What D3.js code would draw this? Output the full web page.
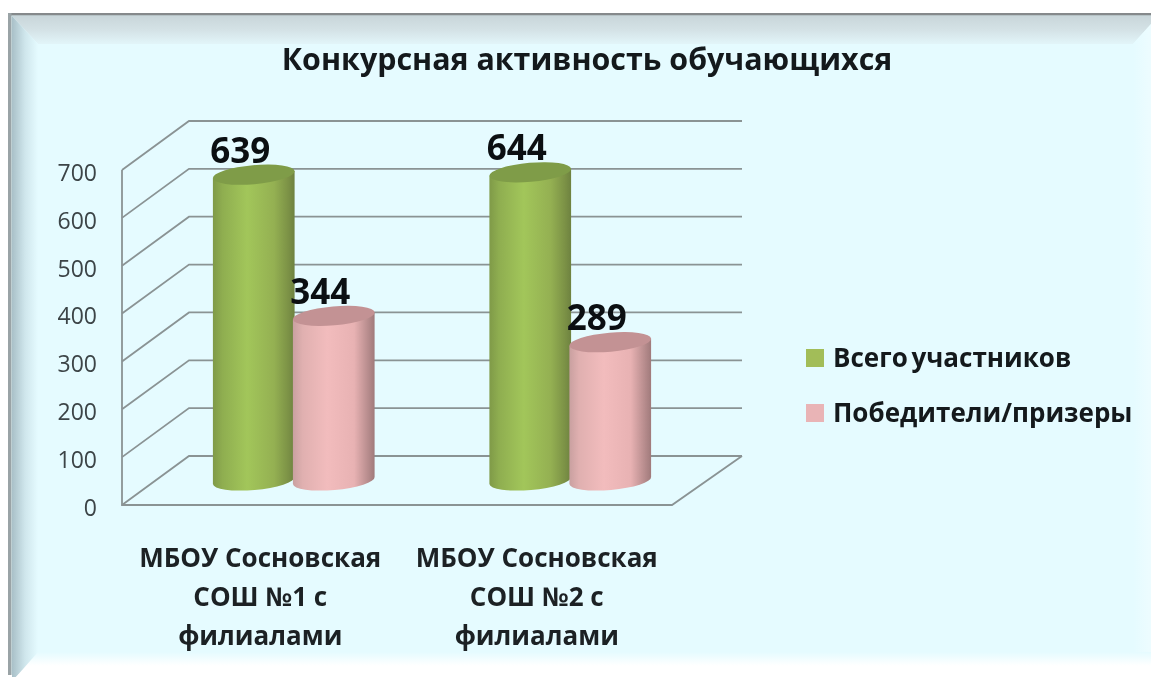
<!DOCTYPE html>
<html>
<head>
<meta charset="utf-8">
<script src="https://cdnjs.cloudflare.com/ajax/libs/d3/7.8.5/d3.min.js"></script>
<style>
  html, body { margin: 0; background: #fff; }
  svg { display: block; filter: blur(0.55px); }
  text { font-family: "Open Sans", "Noto Sans", sans-serif; }
</style>
</head>
<body>
<div id="chart-area"></div>
<script>
const categories = [['МБОУ Сосновская', 'СОШ №1 с', 'филиалами'], ['МБОУ Сосновская', 'СОШ №2 с', 'филиалами']];
const seriesNames = ['Всего участников', 'Победители/призеры'];
const totalValues = [639, 644];
const winnerValues = [344, 289];
const yTicks = [0, 100, 200, 300, 400, 500, 600, 700];
const titleText = 'Конкурсная активность обучающихся';

const width = 1151;
const height = 677;
const depth = { x: 67, y: -49 };
const plot = { left: 122, right: 672, bottom: 505, top: 170 };

const svg = d3.select('#chart-area').append('svg')
  .attr('width', width)
  .attr('height', height);

const defs = svg.append('defs');

function hGradient(id, stops, vertical) {
  const g = defs.append('linearGradient').attr('id', id)
    .attr('x1', 0).attr('y1', 0)
    .attr('x2', vertical ? 0 : 1).attr('y2', vertical ? 1 : 0);
  stops.forEach(s => g.append('stop').attr('offset', s[0]).attr('stop-color', s[1]));
}

hGradient('bevelTop', [[0, '#c9d6da'], [0.5, '#d4e2e6'], [1, '#e2f5f9']], true);
hGradient('bevelLeft', [[0, '#a9c0c8'], [0.5, '#cfe6ec'], [1, '#e5fbff']]);
hGradient('bevelRight', [[0, '#e5fbff'], [1, '#edfcff']]);
hGradient('bevelBottom', [[0, '#e5fbff'], [0.55, '#ffffff'], [1, '#ffffff']], true);
hGradient('cylGreen', [[0, '#7f9a48'], [0.12, '#8fae50'], [0.42, '#a2c65a'], [0.75, '#94b052'], [0.92, '#7c9246'], [1, '#6e8240']]);
hGradient('cylPink', [[0, '#c9a0a0'], [0.12, '#e0b0b0'], [0.42, '#f2bcbd'], [0.75, '#e8b2b3'], [0.92, '#b78c8d'], [1, '#a07a7b']]);

// frame and bevels
svg.append('rect').attr('x', 9).attr('y', 14).attr('width', width - 9).attr('height', 660).attr('fill', '#e5fbff');
svg.append('path').attr('d', 'M38,44 L12,16 L1151,16 L1151,24 L1133,44 Z').attr('fill', 'url(#bevelTop)');
svg.append('path').attr('d', 'M12,16 L38,44 L38,655 L16,677 L12,677 Z').attr('fill', 'url(#bevelLeft)');
svg.append('path').attr('d', 'M1133,44 L1151,24 L1151,652 L1133,652 Z').attr('fill', 'url(#bevelRight)');
svg.append('path').attr('d', 'M38,652 L1151,652 L1151,677 L16,677 Z').attr('fill', 'url(#bevelBottom)');
svg.append('rect').attr('x', 8).attr('y', 13).attr('width', width - 8).attr('height', 2.5).attr('fill', '#85898b');
svg.append('rect').attr('x', 8).attr('y', 13).attr('width', 3.5).attr('height', 662).attr('fill', '#9aa3a6');

const scaleY = d3.scaleLinear()
  .domain([0, 700])
  .range([plot.bottom, plot.top]);

const scaleX = d3.scaleBand()
  .domain(d3.range(categories.length))
  .range([plot.left + depth.x / 2, plot.right + depth.x / 2 + 3]);

const scaleSeries = d3.scaleBand()
  .domain(d3.range(seriesNames.length))
  .range([scaleX.bandwidth() / 2 - 80, scaleX.bandwidth() / 2 + 80]);

// walls
const grid = svg.append('g').attr('fill', 'none').attr('stroke', '#8a9394').attr('stroke-width', 1.8);

grid.selectAll('path.grid').data(yTicks).enter().append('path')
  .attr('class', 'grid')
  .attr('d', d => `M${plot.left},${scaleY(d)} L${plot.left + depth.x},${scaleY(d) + depth.y} L${plot.right + depth.x + 3},${scaleY(d) + depth.y}`);

grid.append('path').attr('d', `M${plot.left},${plot.top} L${plot.left},${plot.bottom} L${plot.right},${plot.bottom} L${plot.right + depth.x + 3},${plot.bottom + depth.y}`);

const axisY = d3.axisLeft(scaleY)
  .tickValues(yTicks)
  .tickSize(0)
  .tickPadding(0);

svg.append('g')
  .attr('transform', `translate(97, 3)`)
  .call(axisY)
  .call(g => g.select('.domain').remove())
  .selectAll('text')
    .attr('font-size', '23px')
    .attr('font-family', '"Open Sans", sans-serif')
    .attr('fill', '#3c4447');

// cylinders
const rx = 41;
const ry = 9.5;
const tilt = 5;
const tiltX = rx * Math.cos(tilt * Math.PI / 180);
const tiltY = rx * Math.sin(tilt * Math.PI / 180);
const barBaseOffset = depth.y / 2;

const bars = [];
seriesNames.forEach((name, s) => {
  const vals = s === 0 ? totalValues : winnerValues;
  vals.forEach((v, c) => {
    bars.push({ s, c, v, cx: scaleX(c) + scaleSeries(s) + scaleSeries.bandwidth() / 2 });
  });
});

const barGroups = svg.selectAll('g.bar')
  .data(bars)
  .enter().append('g')
    .attr('class', 'bar');

barGroups.append('path')
  .attr('d', d => {
    const top = scaleY(d.v) + barBaseOffset;
    const bottom = scaleY(0) + barBaseOffset;
    return `M${d.cx - tiltX},${top + tiltY} L${d.cx - tiltX},${bottom + tiltY}
      A${rx},${ry} ${-tilt} 0 0 ${d.cx + tiltX},${bottom - tiltY} L${d.cx + tiltX},${top - tiltY} Z`;
  })
  .attr('fill', d => d.s === 0 ? 'url(#cylGreen)' : 'url(#cylPink)');

barGroups.append('ellipse')
  .attr('cx', d => d.cx)
  .attr('cy', d => scaleY(d.v) + barBaseOffset)
  .attr('rx', rx)
  .attr('ry', ry)
  .attr('transform', d => `rotate(${-tilt}, ${d.cx}, ${scaleY(d.v) + barBaseOffset})`)
  .attr('fill', d => d.s === 0 ? '#7f9c48' : '#c39294');

barGroups.append('text')
  .text(d => d.v)
  .attr('x', d => d.cx - 13.5)
  .attr('y', d => scaleY(d.v) + barBaseOffset - 12)
  .attr('text-anchor', 'middle')
  .attr('font-size', '35px')
  .attr('font-weight', 700)
  .attr('fill', '#0b0f12');

// title
svg.append('text')
  .text(titleText)
  .attr('x', 587)
  .attr('y', 70)
  .attr('text-anchor', 'middle')
  .attr('font-size', '30.4px')
  .attr('font-weight', 700)
  .attr('fill', '#14191c');

// category labels
const catLabels = svg.selectAll('g.cat')
  .data(categories)
  .enter().append('g')
    .attr('class', 'cat');

catLabels.selectAll('text')
  .data((d, i) => d.map((line, j) => ({ line, j, i })))
  .enter().append('text')
    .text(d => d.line)
    .attr('x', d => scaleX(d.i) + scaleX.bandwidth() / 2 - depth.x / 2)
    .attr('y', d => 567 + d.j * 39)
    .attr('text-anchor', 'middle')
    .attr('font-size', '26px')
    .attr('font-weight', 700)
    .attr('fill', '#1c2124');

// legend
const legend = svg.selectAll('g.legend')
  .data(seriesNames)
  .enter().append('g')
    .attr('class', 'legend')
    .attr('transform', (d, i) => `translate(806, ${349 + i * 55})`);

legend.append('rect')
  .attr('width', 18)
  .attr('height', 18)
  .attr('fill', (d, i) => i === 0 ? '#a2bd58' : '#e9b4b6');

legend.append('text')
  .text(d => d)
  .attr('x', 27)
  .attr('y', 18)
  .attr('font-size', '26px')
  .attr('font-weight', 700)
  .attr('word-spacing', '-3px')
  .attr('fill', '#14191c');
</script>
</body>
</html>
